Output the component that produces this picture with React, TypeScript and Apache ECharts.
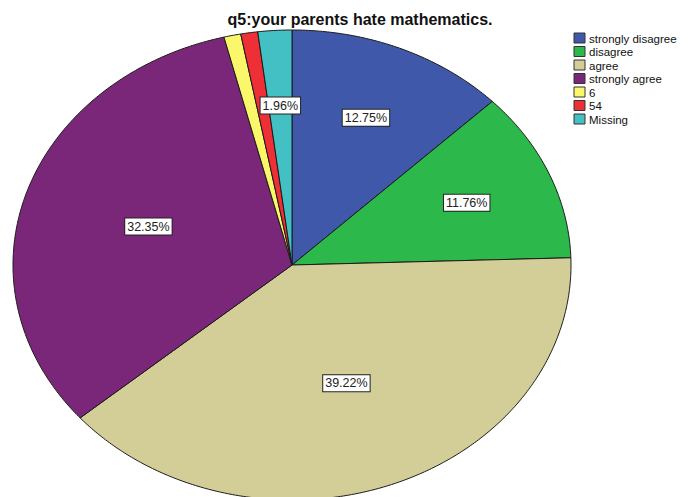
import React, { useEffect, useRef } from "react";
import * as echarts from "echarts";

const title = "q5:your parents hate mathematics.";
const categories = ["strongly disagree", "disagree", "agree", "strongly agree", "6", "54", "Missing"];
const counts = [13, 12, 40, 33, 1, 1, 2];
const colors = ["#3f58a9", "#2db84b", "#d3ce97", "#7b2779", "#fbf76a", "#ee2f35", "#43c0c4"];

const CX = 292, CY = 265, RX = 279, RY = 235;

export default function App() {
  const ref = useRef<HTMLDivElement>(null);
  useEffect(() => {
    if (!ref.current) return;
    const chart = echarts.init(ref.current, null, { renderer: "svg" });
    const total = counts.reduce((a, b) => a + b, 0);
    const starts: number[] = [];
    let acc = 0;
    counts.forEach((c) => { starts.push(acc); acc += c; });

    const pt = (t: number, f = 1) => [CX + RX * f * Math.sin(t), CY - RY * f * Math.cos(t)];

    const renderItem = (params: any, api: any) => {
      const i = params.dataIndex;
      const v = api.value(1);
      const a0 = (starts[i] / total) * Math.PI * 2;
      const a1 = ((starts[i] + v) / total) * Math.PI * 2;
      const n = Math.max(4, Math.ceil((a1 - a0) / 0.01));
      const points: number[][] = [[CX, CY]];
      for (let k = 0; k <= n; k++) points.push(pt(a0 + ((a1 - a0) * k) / n));
      const pct = (v / total) * 100;
      const children: any[] = [
        {
          type: "polygon",
          shape: { points },
          style: { fill: colors[i], stroke: "#1a1a1a", lineWidth: 1 },
        },
      ];
      if (pct > 1.5) {
        const mid = (a0 + a1) / 2;
        const f = pct < 20 ? 0.68 : 0.54;
        const [lx, ly] = pt(mid, f);
        children.push({
          type: "text",
          z2: 10,
          style: {
            text: pct.toFixed(2) + "%",
            x: lx,
            y: ly,
            align: "center",
            verticalAlign: "middle",
            font: "12.5px 'Liberation Sans', Arial, sans-serif",
            fill: "#222",
            backgroundColor: "#ffffff",
            borderColor: "#222",
            borderWidth: 1,
            padding: [2, 2, 1, 2],
          },
        });
      }
      return { type: "group", children };
    };

    const legendEls: any[] = [];
    categories.forEach((name, i) => {
      const y = 33 + i * 13.5;
      legendEls.push({
        type: "rect",
        shape: { x: 574, y: y, width: 11, height: 10 },
        style: { fill: colors[i], stroke: "#333", lineWidth: 1 },
      });
      legendEls.push({
        type: "text",
        style: {
          text: name,
          x: 589,
          y: y + 5.5,
          verticalAlign: "middle",
          font: "11.5px 'Liberation Sans', Arial, sans-serif",
          lineHeight: 12,
          fill: "#111",
        },
      });
    });

    chart.setOption({
      animation: false,
      backgroundColor: "#ffffff",
      title: {
        text: title,
        left: 355,
        textAlign: "center",
        top: 6,
        textStyle: { fontFamily: "'Liberation Sans', Arial, sans-serif", fontSize: 16, fontWeight: "bold", color: "#111" },
      },
      graphic: legendEls,
      series: [
        {
          type: "custom",
          coordinateSystem: "none",
          renderItem,
          data: counts.map((c, i) => [i, c]),
        },
      ],
    });
    return () => chart.dispose();
  }, []);
  return <div ref={ref} style={{ position: "fixed", left: 0, top: 0, width: 690, height: 497 }} />;
}
